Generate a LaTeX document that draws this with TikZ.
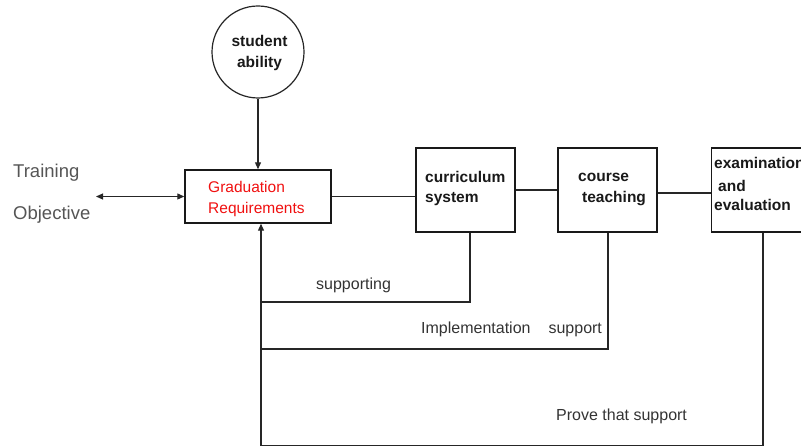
\documentclass[tikz,border=0pt]{standalone}
\usepackage{fontspec}
\setmainfont{Liberation Sans}
\usetikzlibrary{arrows.meta,calc}
\definecolor{lbl}{HTML}{333333}
\definecolor{obj}{HTML}{555555}
\definecolor{redtxt}{HTML}{F01010}
\tikzset{
  box/.style={draw=black!90,line width=1.4bp,minimum width=#1,minimum height=84bp,inner sep=0pt},
  lbltext/.style={text=lbl,font=\fontsize{16bp}{21bp}\selectfont,inner sep=0pt,anchor=west},
  boldtext/.style={text=black!90,font=\fontsize{15.5bp}{20bp}\selectfont\bfseries,inner sep=0pt,align=left},
  conn/.style={line width=1.1bp,draw=black!85},
  tip/.style={-{Triangle[length=7bp,width=6bp]}}
}
\begin{document}
\begin{tikzpicture}[x=1bp,y=-1bp]
\useasboundingbox (0,0) rectangle (801,446);
\clip (0,0) rectangle (801,446);
% nodes
\node[circle,draw=black!85,line width=1.2bp,minimum size=92bp,inner sep=0pt] (student) at (258,52) {};
\node[boldtext,align=center] (studenttxt) at (259.5,53) {student\\[1.5bp]ability};
\node[box=146bp,minimum height=53bp] (grad) at (258,196.5) {};
\node[lbltext,text=redtxt,font=\fontsize{15.5bp}{21bp}\selectfont,align=left] (gradtxt) at (208,198.5) {Graduation\\Requirements};
\node[box=99bp] (curr) at (465.5,190) {};
\node[boldtext,anchor=west] (currtxt) at (425,188.5) {curriculum\\system};
\node[box=99bp] (course) at (607.5,190) {};
\node[boldtext,anchor=west] (coursetxt) at (578,189.5) {course\\[1bp]\hspace*{4bp}teaching};
\node[box=99bp] (exam) at (761,190) {};
\node[boldtext,anchor=west] (examtxt) at (714,184) {examination\\[3bp]\hspace*{4bp}and\\[-1bp]evaluation};
\node[lbltext,text=obj,font=\fontsize{18.5bp}{21bp}\selectfont] (train) at (13,173) {Training};
\node[lbltext,text=obj,font=\fontsize{18.5bp}{21bp}\selectfont] (objective) at (13,215) {Objective};
\node[lbltext] (supp) at (316,285) {supporting};
\node[lbltext] (impl) at (421,329) {Implementation\hspace{18bp}support};
\node[lbltext] (prove) at (556,416) {Prove that support};
\coordinate (objarrow) at (96,196.5);
\coordinate (c1) at (470,302);
\coordinate (c2) at (608,349);
\coordinate (c3) at (763,446);
\coordinate (base) at (261,446);
% connectors
\draw[conn,tip] (student.south) -- (grad.north);
\draw[conn,{Triangle[length=7bp,width=6bp]}-{Triangle[length=7bp,width=6bp]}] (objarrow) -- (grad.west);
\draw[conn] (grad.east) -- (grad.east -| curr.west);
\draw[conn] (curr.east) -- (course.west);
\draw[conn] ($(course.east)+(0,3)$) -- ($(exam.west)+(0,3)$);
\draw[conn,tip] (base) -- (base |- grad.south);
\draw[conn] (c1 |- curr.south) -- (c1) -- (c1 -| base);
\draw[conn] (c2 |- course.south) -- (c2) -- (c2 -| base);
\draw[conn] (c3 |- exam.south) -- (c3) -- (base);
\end{tikzpicture}
\end{document}
